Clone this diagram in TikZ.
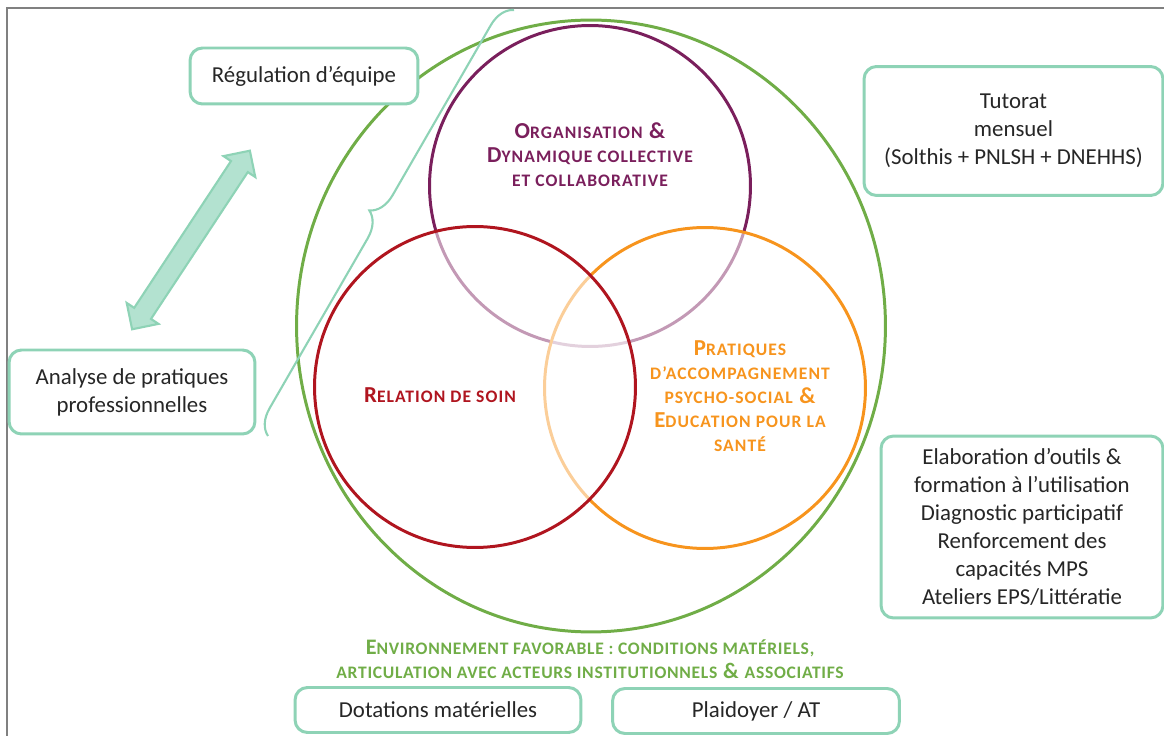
\documentclass[tikz,border=0pt]{standalone}
\usepackage{fontspec}
\setmainfont{Carlito}
\usetikzlibrary{shapes,arrows,positioning,decorations.pathreplacing}

\definecolor{vertenv}{HTML}{70AD47}
\definecolor{violetorg}{HTML}{7A1F5C}
\definecolor{rougesoin}{HTML}{B0151F}
\definecolor{orangeedu}{HTML}{F7941D}
\definecolor{turquoise}{HTML}{8ED3B6}
\definecolor{turquoiseclair}{HTML}{B3E2D0}
\definecolor{texte}{HTML}{262626}

% petites capitales faites a la main (Carlito n'en a pas)
\newcommand{\pc}[1]{{\fontsize{10}{13.6}\selectfont\MakeUppercase{#1}}}

\begin{document}
\begin{tikzpicture}[x=0.02cm, y=-0.02cm,
    boite/.style={rectangle, rounded corners=0.25cm, draw=turquoise, line width=1.7pt, fill=white, text=texte, align=center, font=\fontsize{13}{15.9}\selectfont, inner sep=0pt},
    cercle/.style={circle, line width=1.7pt, minimum size=6.42cm, inner sep=0pt, fill=white, fill opacity=0.55},
    titre/.style={align=center, font=\fontsize{13}{13.6}\selectfont\bfseries\addfontfeatures{LetterSpace=6}},
    fleche/.style={double arrow, draw=turquoise, fill=turquoiseclair, line width=1.2pt, inner xsep=0pt, inner ysep=0.18cm, double arrow head extend=0.18cm, minimum width=0.72cm, minimum height=4.28cm},
    accolade/.style={decorate, decoration={brace, amplitude=0.5cm}, draw=turquoise, line width=1.2pt}
]
\useasboundingbox (0,0) rectangle (1164,736);

% cadre
\draw[gray, line width=1.3pt] (7,8) rectangle (1180,750);

% --- cercles ---
\node[ellipse, draw=vertenv, line width=1.7pt, minimum width=11.78cm, minimum height=12.24cm, inner sep=0pt] (env) at (591,326) {};
\node[cercle, draw=violetorg] (orga) at (590,186) {};
\node[cercle, draw=orangeedu] (edu) at (705,388) {};
\node[cercle, draw=rougesoin] (soin) at (475,387) {};

% titres des cercles
\node[titre, text=violetorg] (torga) at (590,155) {O\pc{rganisation} \&\\D\pc{ynamique collective}\\\pc{et collaborative}};
\node[titre, text=rougesoin] (tsoin) at (440,395) {R\pc{elation de soin}};
\node[titre, text=orangeedu] (tedu) at (740,396) {P\pc{ratiques}\\\pc{d’accompagnement}\\\pc{psycho-social} \&\\E\pc{ducation pour la}\\\pc{santé}};
\node[titre, text=vertenv, font=\fontsize{12.6}{13.6}\selectfont\bfseries\addfontfeatures{LetterSpace=4}] (tenv) at (590,659)
    {E\pc{nvironnement favorable : conditions matériels,}\\\pc{articulation avec acteurs institutionnels} \& \pc{associatifs}};

% --- boites ---
\node[boite, minimum width=4.56cm, minimum height=1.12cm] (regul) at (304,76) {Régulation d’équipe};
\node[boite, minimum width=4.92cm, minimum height=1.68cm] (analyse) at (132,392) {Analyse de pratiques\\professionnelles};
\node[boite, minimum width=5.98cm, minimum height=2.58cm] (tutorat) at (1013.5,131) {Tutorat\\mensuel\\(Solthis + PNLSH + DNEHHS)};
\node[boite, minimum width=5.64cm, minimum height=3.64cm] (outils) at (1022,527)
    {Elaboration d’outils \&\\formation à l’utilisation\\Diagnostic participatif\\Renforcement des\\capacités MPS\\Ateliers EPS/Littératie};
\node[boite, minimum width=5.72cm, minimum height=0.9cm] (dotations) at (438,710) {Dotations matérielles};
\node[boite, minimum width=5.74cm, minimum height=0.9cm] (plaidoyer) at (756,711) {Plaidoyer / AT};

% double fleche entre analyse et regulation
\node[fleche, rotate=56.6] (lien) at (191,240) {};

% accolade
\coordinate (accbas) at (268,436);
\coordinate (acchaut) at (514,10);
\draw[accolade] (accbas) -- (acchaut);

\end{tikzpicture}
\end{document}
